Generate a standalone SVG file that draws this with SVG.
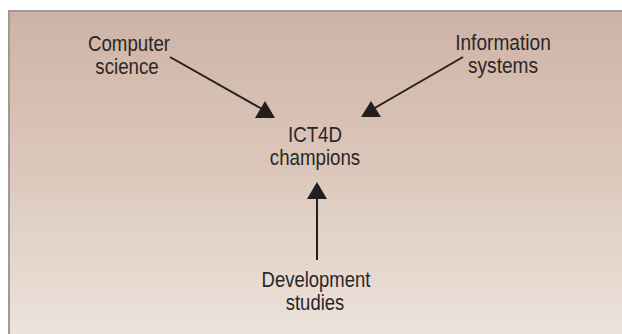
<svg xmlns="http://www.w3.org/2000/svg" width="622" height="334" viewBox="0 0 622 334">
  <defs>
    <linearGradient id="bg" x1="0" y1="0" x2="0" y2="1">
      <stop offset="0" stop-color="#ceb3a5"/>
      <stop offset="0.5" stop-color="#dcc8bb"/>
      <stop offset="1" stop-color="#ece3dc"/>
    </linearGradient>
    <style>
      .t { font-family: "Liberation Sans", Arial, sans-serif; font-size: 22px; fill: #2b2727; text-anchor: middle; }
      .ln { stroke: #231f20; stroke-width: 2; fill: none; }
      .hd { fill: #231f20; }
    </style>
  </defs>
  <rect x="0" y="0" width="622" height="334" fill="#ffffff"/>
  <rect x="8" y="10" width="614" height="324" fill="url(#bg)"/>
  <path d="M9 334 V11 H622" fill="none" stroke="#9b9b9b" stroke-width="2"/>

  <g id="connectors">
    <line class="ln" x1="170" y1="57" x2="262" y2="109"/>
    <polygon class="hd" points="265,101 275,118 255,118"/>
    <line class="ln" x1="463" y1="57" x2="373" y2="109"/>
    <polygon class="hd" points="371,101 381,117 361,117"/>
    <line class="ln" x1="317" y1="260" x2="317" y2="196"/>
    <polygon class="hd" points="317,182 327,199 307,199"/>
  </g>

  <g id="computer-science">
    <g transform="translate(129,0) scale(0.85,1)"><text class="t" x="0" y="51">Computer</text></g>
    <g transform="translate(127,0) scale(0.85,1)"><text class="t" x="0" y="74">science</text></g>
  </g>
  <g id="information-systems">
    <g transform="translate(503,0) scale(0.87,1)"><text class="t" x="0" y="50">Information</text></g>
    <g transform="translate(503,0) scale(0.87,1)"><text class="t" x="0" y="73">systems</text></g>
  </g>
  <g id="ict4d-champions">
    <g transform="translate(315,0) scale(0.85,1)"><text class="t" x="0" y="142">ICT4D</text></g>
    <g transform="translate(315,0) scale(0.85,1)"><text class="t" x="0" y="165">champions</text></g>
  </g>
  <g id="development-studies">
    <g transform="translate(316,0) scale(0.84,1)"><text class="t" x="0" y="287">Development</text></g>
    <g transform="translate(315,0) scale(0.84,1)"><text class="t" x="0" y="310">studies</text></g>
  </g>
</svg>
